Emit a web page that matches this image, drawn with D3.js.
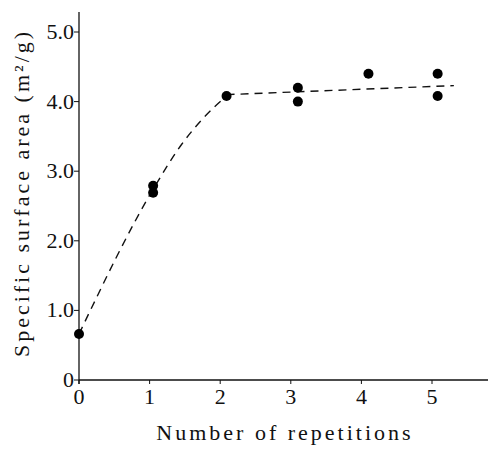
<!DOCTYPE html>
<html>
<head>
<meta charset="UTF-8">
<title>Specific surface area vs repetitions</title>
<style>
  body { margin: 0; background: #fff; }
</style>
</head>
<body>
<script src="https://d3js.org/d3.v7.min.js"></script>
<script>
// measured points
var repX = [0, 1.05, 1.05, 2.09, 3.1, 3.1, 4.1, 5.08, 5.08];
var areaY = [0.66, 2.79, 2.69, 4.08, 4.2, 4.0, 4.4, 4.4, 4.08];
// dashed trend line: curved rise, then nearly flat
var riseX = [0, 1.05, 1.45, 1.75, 2.09];
var riseY = [0.66, 2.74, 3.38, 3.75, 4.08];
var flatX = [2.09, 5.31];
var flatY = [4.1, 4.23];
var xTicks = [0, 1, 2, 3, 4, 5];
var yTicks = [0, 1, 2, 3, 4, 5];
var yTickLabels = ["0", "1.0", "2.0", "3.0", "4.0", "5.0"];

var FONT = "'Liberation Serif'";
var W = 490, H = 451;
var svg = d3.select("body").append("svg").attr("width", W).attr("height", H);

var x = d3.scaleLinear().domain([0, 5]).range([79, 432]);
var y = d3.scaleLinear().domain([0, 5]).range([380, 32]);

// axes lines
svg.append("line").attr("x1", x(0)).attr("x2", 488).attr("y1", y(0)).attr("y2", y(0))
  .attr("stroke", "#111").attr("stroke-width", 1.3);
svg.append("line").attr("x1", x(0)).attr("x2", x(0)).attr("y1", y(0) + 4).attr("y2", 12)
  .attr("stroke", "#111").attr("stroke-width", 1.3);

// x ticks
var xg = svg.append("g");
xg.selectAll("line").data(xTicks).enter().append("line")
  .attr("x1", d => x(d)).attr("x2", d => x(d))
  .attr("y1", y(0)).attr("y2", y(0) + 4)
  .attr("stroke", "#111");
xg.selectAll("text").data(xTicks).enter().append("text")
  .attr("x", d => x(d)).attr("y", y(0) + 24)
  .attr("text-anchor", "middle").attr("font-size", 22)
  .attr("font-family", FONT).attr("fill", "#111")
  .text(d => d);

// y ticks
var yg = svg.append("g");
yg.selectAll("line").data(yTicks).enter().append("line")
  .attr("x1", x(0) - 5).attr("x2", x(0))
  .attr("y1", d => y(d)).attr("y2", d => y(d))
  .attr("stroke", "#111");
yg.selectAll("text").data(yTicks).enter().append("text")
  .attr("x", x(0) - 5).attr("y", d => y(d) + 7)
  .attr("text-anchor", "end").attr("font-size", 22)
  .attr("font-family", FONT).attr("fill", "#111")
  .text((d, i) => yTickLabels[i]);

// titles
svg.append("text").attr("x", 285).attr("y", 440)
  .attr("text-anchor", "middle").attr("font-size", 22)
  .attr("font-family", FONT).attr("fill", "#111")
  .attr("letter-spacing", 3)
  .text("Number of repetitions");
svg.append("text")
  .attr("transform", "translate(29,193) rotate(-90)")
  .attr("text-anchor", "middle").attr("font-size", 22)
  .attr("font-family", FONT).attr("fill", "#111")
  .attr("letter-spacing", 3)
  .text("Specific surface area (m²/g)");

// dashed line
var curved = d3.line().x(d => x(d[0])).y(d => y(d[1])).curve(d3.curveMonotoneX);
var straight = d3.line().x(d => x(d[0])).y(d => y(d[1]));
svg.append("path")
  .attr("d", curved(riseX.map((d, i) => [d, riseY[i]])) +
             straight(flatX.map((d, i) => [d, flatY[i]])))
  .attr("fill", "none").attr("stroke", "#111").attr("stroke-width", 1.4)
  .attr("stroke-dasharray", "8,6");

// points
svg.append("g").selectAll("circle").data(repX).enter().append("circle")
  .attr("cx", d => x(d)).attr("cy", (d, i) => y(areaY[i]))
  .attr("r", 5).attr("fill", "#000");
</script>
</body>
</html>
